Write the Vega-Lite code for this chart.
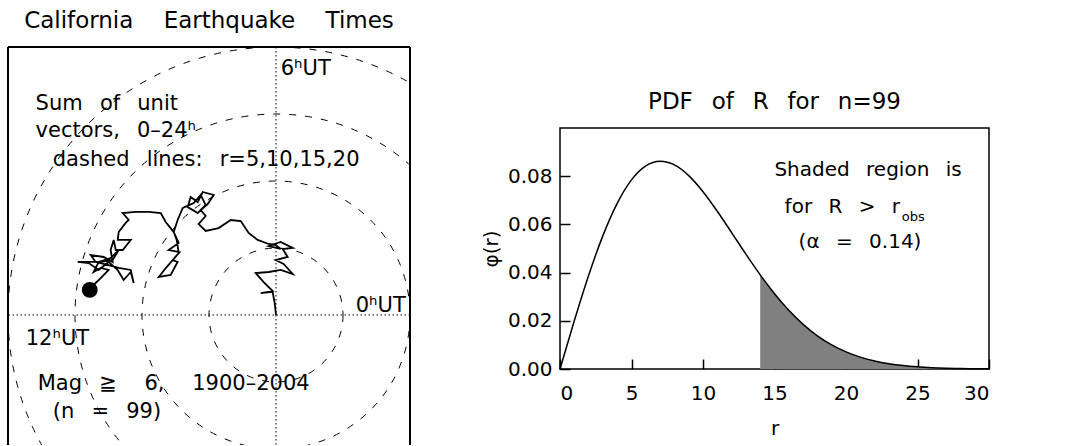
{
  "$schema": "https://vega.github.io/schema/vega-lite/v6.json",
  "padding": {"left": 7, "top": 10, "right": 0, "bottom": 0},
  "background": "white",
  "config": {
    "font": "DejaVu Sans",
    "view": {"stroke": null},
    "title": {"font": "DejaVu Sans", "fontSize": 23, "fontWeight": "normal", "color": "black", "anchor": "middle"}
  },
  "datasets": {
    "circles": [{"x": 0, "y": 0, "r": 5}, {"x": 0, "y": 0, "r": 10}, {"x": 0, "y": 0, "r": 15}, {"x": 0, "y": 0, "r": 20}],
    "vline": [{"x": 0}],
    "hline": [{"y": 0}],
    "framev": [{"x": -20}, {"x": 10}],
    "frameh": [{"y": 20}],
    "walk": [
      {"i": 1, "x": 0, "y": 0}, {"i": 2, "x": -0.10, "y": 0.90}, {"i": 3, "x": -0.25, "y": 1.72}, {"i": 4, "x": -1.14, "y": 1.64},
      {"i": 5, "x": -0.25, "y": 1.79}, {"i": 6, "x": -0.92, "y": 2.46}, {"i": 7, "x": -1.51, "y": 3.13}, {"i": 8, "x": -0.54, "y": 3.21},
      {"i": 9, "x": 0.35, "y": 3.36}, {"i": 10, "x": 1.25, "y": 3.06}, {"i": 11, "x": 0.57, "y": 3.81}, {"i": 12, "x": -0.02, "y": 4.10},
      {"i": 13, "x": 0.87, "y": 4.33}, {"i": 14, "x": 0.50, "y": 4.93}, {"i": 15, "x": 1.25, "y": 5.00}, {"i": 16, "x": 0.35, "y": 5.45},
      {"i": 17, "x": -0.54, "y": 5.15}, {"i": 18, "x": 0.35, "y": 4.93}, {"i": 19, "x": -0.02, "y": 5.22}, {"i": 20, "x": -0.54, "y": 5.30},
      {"i": 21, "x": -1.37, "y": 5.60}, {"i": 22, "x": -2.04, "y": 6.12}, {"i": 23, "x": -2.63, "y": 7.01}, {"i": 24, "x": -3.38, "y": 7.09},
      {"i": 25, "x": -4.28, "y": 6.49}, {"i": 26, "x": -5.25, "y": 6.27}, {"i": 27, "x": -5.77, "y": 6.79}, {"i": 28, "x": -5.25, "y": 7.39},
      {"i": 29, "x": -5.62, "y": 7.84}, {"i": 30, "x": -5.10, "y": 8.28}, {"i": 31, "x": -4.65, "y": 8.96}, {"i": 32, "x": -5.47, "y": 9.18},
      {"i": 33, "x": -5.84, "y": 8.43}, {"i": 34, "x": -6.37, "y": 8.81}, {"i": 35, "x": -6.59, "y": 8.06}, {"i": 36, "x": -5.84, "y": 7.61},
      {"i": 37, "x": -5.25, "y": 8.21}, {"i": 38, "x": -5.62, "y": 8.96}, {"i": 39, "x": -6.14, "y": 8.36}, {"i": 40, "x": -6.96, "y": 7.99},
      {"i": 41, "x": -7.34, "y": 7.09}, {"i": 42, "x": -7.63, "y": 6.19}, {"i": 43, "x": -7.26, "y": 5.37}, {"i": 44, "x": -8.01, "y": 4.85},
      {"i": 45, "x": -7.19, "y": 4.70}, {"i": 46, "x": -7.71, "y": 4.10}, {"i": 47, "x": -7.34, "y": 3.96}, {"i": 48, "x": -7.86, "y": 2.99},
      {"i": 49, "x": -8.75, "y": 2.84}, {"i": 50, "x": -8.16, "y": 3.58}, {"i": 51, "x": -7.71, "y": 4.10}, {"i": 52, "x": -7.26, "y": 4.63},
      {"i": 53, "x": -7.41, "y": 5.60}, {"i": 54, "x": -7.63, "y": 6.19}, {"i": 55, "x": -8.23, "y": 6.94}, {"i": 56, "x": -8.60, "y": 7.61},
      {"i": 57, "x": -9.50, "y": 7.69}, {"i": 58, "x": -10.47, "y": 7.69}, {"i": 59, "x": -11.44, "y": 7.61}, {"i": 60, "x": -10.99, "y": 7.09},
      {"i": 61, "x": -11.22, "y": 6.87}, {"i": 62, "x": -11.74, "y": 6.19}, {"i": 63, "x": -11.81, "y": 5.60}, {"i": 64, "x": -10.84, "y": 5.60},
      {"i": 65, "x": -11.44, "y": 4.85}, {"i": 66, "x": -11.96, "y": 4.85}, {"i": 67, "x": -12.11, "y": 5.60}, {"i": 68, "x": -12.34, "y": 4.85},
      {"i": 69, "x": -12.19, "y": 3.96}, {"i": 70, "x": -12.86, "y": 4.33}, {"i": 71, "x": -13.83, "y": 4.48}, {"i": 72, "x": -13.46, "y": 3.96},
      {"i": 73, "x": -12.49, "y": 3.73}, {"i": 74, "x": -11.74, "y": 3.51}, {"i": 75, "x": -10.84, "y": 3.36}, {"i": 76, "x": -10.62, "y": 2.39},
      {"i": 77, "x": -10.84, "y": 3.21}, {"i": 78, "x": -11.37, "y": 2.61}, {"i": 79, "x": -11.81, "y": 3.36}, {"i": 80, "x": -12.49, "y": 3.96},
      {"i": 81, "x": -13.23, "y": 3.36}, {"i": 82, "x": -13.98, "y": 3.88}, {"i": 83, "x": -14.80, "y": 3.96}, {"i": 84, "x": -13.83, "y": 3.96},
      {"i": 85, "x": -13.08, "y": 3.96}, {"i": 86, "x": -12.19, "y": 4.10}, {"i": 87, "x": -11.74, "y": 4.85}, {"i": 88, "x": -12.34, "y": 4.25},
      {"i": 89, "x": -13.23, "y": 3.96}, {"i": 90, "x": -13.61, "y": 3.21}, {"i": 91, "x": -13.08, "y": 3.51}, {"i": 92, "x": -12.49, "y": 3.36},
      {"i": 93, "x": -13.08, "y": 2.76}, {"i": 94, "x": -13.46, "y": 2.39}, {"i": 95, "x": -13.90, "y": 1.87}
    ],
    "endpoint": [{"x": -13.90, "y": 1.87}],
    "ltext": [
      {"x": -17.94, "y": 15.30, "label": "Sum\u2002 of\u2002 unit"},
      {"x": -17.94, "y": 13.28, "label": "vectors,\u2002 0–24ʰ"},
      {"x": -16.66, "y": 11.12, "label": "dashed\u2002 lines:\u2002 r=5,10,15,20"},
      {"x": 0.35, "y": 17.91, "label": "6ʰUT"},
      {"x": 5.95, "y": 0.22, "label": "0ʰUT"},
      {"x": -18.68, "y": -2.24, "label": "12ʰUT"},
      {"x": -17.78, "y": -5.60, "label": "Mag\u2002 ≧\u2003 6,\u2003 1900–2004"},
      {"x": -16.66, "y": -7.69, "label": "(n\u2002 =\u2002 99)"}
    ],
    "pdf": [
      {"r": 0, "phi": 0}, {"r": 1, "phi": 0.02000}, {"r": 2, "phi": 0.03880}, {"r": 3, "phi": 0.05534},
      {"r": 4, "phi": 0.06875}, {"r": 5, "phi": 0.07847}, {"r": 6, "phi": 0.08426}, {"r": 7, "phi": 0.08620},
      {"r": 8, "phi": 0.08467}, {"r": 9, "phi": 0.08022}, {"r": 10, "phi": 0.07357}, {"r": 11, "phi": 0.06546},
      {"r": 12, "phi": 0.05661}, {"r": 13, "phi": 0.04764}, {"r": 14, "phi": 0.03906}, {"r": 15, "phi": 0.03122},
      {"r": 16, "phi": 0.02435}, {"r": 17, "phi": 0.01853}, {"r": 18, "phi": 0.01378}, {"r": 19, "phi": 0.01001},
      {"r": 20, "phi": 0.00711}, {"r": 21, "phi": 0.00493}, {"r": 22, "phi": 0.00335}, {"r": 23, "phi": 0.00222},
      {"r": 24, "phi": 0.00144}, {"r": 25, "phi": 0.000915}, {"r": 26, "phi": 0.000569}, {"r": 27, "phi": 0.000346},
      {"r": 28, "phi": 0.000206}, {"r": 29, "phi": 0.000120}, {"r": 30, "phi": 0.0000683}
    ],
    "rtext": [
      {"r": 21.54, "phi": 0.0801, "label": "Shaded\u2002 region\u2002 is"},
      {"r": 20.98, "phi": 0.0503, "label": "(α\u2002 =\u2002 0.14)"}
    ],
    "rtext2": [{"r": 23.78, "phi": 0.0649, "label": "for\u2002 R\u2002 >\u2002 r"}],
    "rsub": [{"r": 23.90, "phi": 0.0616, "label": "obs"}],
    "spacer": [{"label": ""}]
  },
  "hconcat": [
    {
      "width": 402,
      "height": 398,
      "title": {"text": "California\u2003 Earthquake\u2003 Times", "offset": 13},
      "layer": [
        {
          "data": {"name": "circles"},
          "mark": {"type": "point", "shape": "circle", "filled": false, "stroke": "black", "strokeWidth": 1, "strokeDash": [7, 9], "opacity": 1, "clip": true},
          "encoding": {
            "x": {"field": "x", "type": "quantitative", "scale": {"domain": [-20, 10], "nice": false, "zero": false}, "axis": null},
            "y": {"field": "y", "type": "quantitative", "scale": {"domain": [-9.7, 20], "nice": false, "zero": false}, "axis": null},
            "size": {"field": "r", "type": "quantitative", "scale": {"type": "pow", "exponent": 2, "domain": [0, 20], "range": [0, 287296]}, "legend": null}
          }
        },
        {
          "data": {"name": "vline"},
          "mark": {"type": "rule", "stroke": "black", "strokeWidth": 1, "strokeDash": [1.5, 2.5]},
          "encoding": {"x": {"field": "x", "type": "quantitative", "scale": {"domain": [-20, 10], "nice": false, "zero": false}, "axis": null}}
        },
        {
          "data": {"name": "hline"},
          "mark": {"type": "rule", "stroke": "black", "strokeWidth": 1, "strokeDash": [1.5, 2.5]},
          "encoding": {"y": {"field": "y", "type": "quantitative", "scale": {"domain": [-9.7, 20], "nice": false, "zero": false}, "axis": null}}
        },
        {
          "data": {"name": "framev"},
          "mark": {"type": "rule", "stroke": "black", "strokeWidth": 2},
          "encoding": {"x": {"field": "x", "type": "quantitative", "scale": {"domain": [-20, 10], "nice": false, "zero": false}, "axis": null}}
        },
        {
          "data": {"name": "frameh"},
          "mark": {"type": "rule", "stroke": "black", "strokeWidth": 2},
          "encoding": {"y": {"field": "y", "type": "quantitative", "scale": {"domain": [-9.7, 20], "nice": false, "zero": false}, "axis": null}}
        },
        {
          "data": {"name": "walk"},
          "mark": {"type": "line", "stroke": "black", "strokeWidth": 1.8, "strokeJoin": "miter"},
          "encoding": {
            "x": {"field": "x", "type": "quantitative", "scale": {"domain": [-20, 10], "nice": false, "zero": false}, "axis": null},
            "y": {"field": "y", "type": "quantitative", "scale": {"domain": [-9.7, 20], "nice": false, "zero": false}, "axis": null},
            "order": {"field": "i", "type": "quantitative"}
          }
        },
        {
          "data": {"name": "endpoint"},
          "mark": {"type": "point", "shape": "circle", "filled": true, "color": "black", "opacity": 1, "size": 250},
          "encoding": {
            "x": {"field": "x", "type": "quantitative", "scale": {"domain": [-20, 10], "nice": false, "zero": false}, "axis": null},
            "y": {"field": "y", "type": "quantitative", "scale": {"domain": [-9.7, 20], "nice": false, "zero": false}, "axis": null}
          }
        },
        {
          "data": {"name": "ltext"},
          "mark": {"type": "text", "align": "left", "baseline": "alphabetic", "fontSize": 21, "font": "DejaVu Sans", "color": "black"},
          "encoding": {
            "x": {"field": "x", "type": "quantitative", "scale": {"domain": [-20, 10], "nice": false, "zero": false}, "axis": null},
            "y": {"field": "y", "type": "quantitative", "scale": {"domain": [-9.7, 20], "nice": false, "zero": false}, "axis": null},
            "text": {"field": "label"}
          }
        }
      ]
    },
    {
      "spacing": 20,
      "vconcat": [
        {
          "width": 429,
          "height": 23,
          "data": {"name": "spacer"},
          "mark": {"type": "text"},
          "encoding": {"text": {"field": "label"}}
        },
        {
          "width": 429,
          "height": 241,
          "title": {"text": "PDF\u2002 of\u2002 R\u2002 for\u2002 n=99", "offset": 14},
          "view": {"stroke": "black", "strokeWidth": 1.5},
          "layer": [
            {
              "data": {"name": "pdf"},
              "transform": [{"filter": "datum.r >= 14"}],
              "mark": {"type": "area", "color": "#808080", "opacity": 1, "interpolate": "monotone"},
              "encoding": {
                "x": {"field": "r", "type": "quantitative", "scale": {"domain": [0, 30], "nice": false}},
                "y": {"field": "phi", "type": "quantitative", "scale": {"domain": [0, 0.1], "nice": false}}
              }
            },
            {
              "data": {"name": "pdf"},
              "mark": {"type": "line", "stroke": "black", "strokeWidth": 1.5, "interpolate": "monotone"},
              "encoding": {
                "x": {"field": "r", "type": "quantitative", "scale": {"domain": [0, 30], "nice": false},
                  "axis": {"title": "r", "values": [0, 5, 10, 15, 20, 25, 30], "grid": false, "domain": false, "tickSize": -10, "tickColor": "black", "tickWidth": 1.5, "labelFontSize": 20, "labelColor": "black", "labelPadding": 24, "titleFontSize": 20, "titleFontWeight": "normal", "titleColor": "black", "titlePadding": 15, "labelFont": "DejaVu Sans", "titleFont": "DejaVu Sans"}},
                "y": {"field": "phi", "type": "quantitative", "scale": {"domain": [0, 0.1], "nice": false},
                  "axis": {"title": "φ(r)", "values": [0, 0.02, 0.04, 0.06, 0.08], "format": ".2f", "grid": false, "domain": false, "tickSize": -10, "tickColor": "black", "tickWidth": 1.5, "labelFontSize": 20, "labelColor": "black", "labelPadding": 18, "titleFontSize": 20, "titleFontWeight": "normal", "titleColor": "black", "titlePadding": 6, "labelFont": "DejaVu Sans", "titleFont": "DejaVu Sans"}}
              }
            },
            {
              "data": {"name": "rtext"},
              "mark": {"type": "text", "align": "center", "baseline": "alphabetic", "fontSize": 20, "font": "DejaVu Sans", "color": "black"},
              "encoding": {
                "x": {"field": "r", "type": "quantitative", "scale": {"domain": [0, 30], "nice": false}},
                "y": {"field": "phi", "type": "quantitative", "scale": {"domain": [0, 0.1], "nice": false}},
                "text": {"field": "label"}
              }
            },
            {
              "data": {"name": "rtext2"},
              "mark": {"type": "text", "align": "right", "baseline": "alphabetic", "fontSize": 20, "font": "DejaVu Sans", "color": "black"},
              "encoding": {
                "x": {"field": "r", "type": "quantitative", "scale": {"domain": [0, 30], "nice": false}},
                "y": {"field": "phi", "type": "quantitative", "scale": {"domain": [0, 0.1], "nice": false}},
                "text": {"field": "label"}
              }
            },
            {
              "data": {"name": "rsub"},
              "mark": {"type": "text", "align": "left", "baseline": "alphabetic", "fontSize": 13, "font": "DejaVu Sans", "color": "black"},
              "encoding": {
                "x": {"field": "r", "type": "quantitative", "scale": {"domain": [0, 30], "nice": false}},
                "y": {"field": "phi", "type": "quantitative", "scale": {"domain": [0, 0.1], "nice": false}},
                "text": {"field": "label"}
              }
            }
          ]
        }
      ]
    }
  ],
  "spacing": 69
}
